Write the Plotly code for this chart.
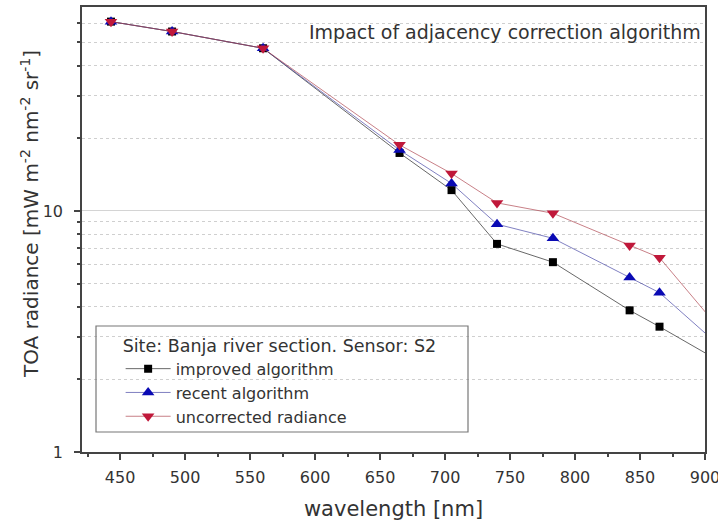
import plotly.graph_objects as go

wavelength = [443, 490, 560, 665, 705, 740, 783, 842, 865, 945]
improved = [61.0, 55.5, 47.3, 17.4, 12.2, 7.3, 6.13, 3.87, 3.31, 1.87]
recent = [61.0, 55.5, 47.3, 17.9, 13.0, 8.81, 7.7, 5.29, 4.58, 1.90]
uncorrected = [61.0, 55.5, 47.3, 18.8, 14.3, 10.8, 9.78, 7.18, 6.4, 1.97]

x_ticks = [450, 500, 550, 600, 650, 700, 750, 800, 850, 900]
x_minor = [425, 475, 525, 575, 625, 675, 725, 775, 825, 875]
y_ticks = [1, 10]
y_minor = [2, 3, 4, 5, 6, 7, 8, 9, 20, 30, 40, 50, 60]

FONT = "DejaVu Sans, Liberation Sans, Arial, sans-serif"
TXT = "#333333"

fig = go.Figure()
fig.add_trace(go.Scatter(x=wavelength, y=improved, mode="lines+markers",
                         name="improved algorithm",
                         line=dict(color="rgba(40,40,40,0.7)", width=1),
                         marker=dict(symbol="square", size=8, color="black")))
fig.add_trace(go.Scatter(x=wavelength, y=recent, mode="lines+markers",
                         name="recent algorithm",
                         line=dict(color="rgba(60,60,160,0.65)", width=1),
                         marker=dict(symbol="triangle-up", size=11, color="#0a0ab4")))
fig.add_trace(go.Scatter(x=wavelength, y=uncorrected, mode="lines+markers",
                         name="uncorrected radiance",
                         line=dict(color="rgba(170,60,70,0.65)", width=1),
                         marker=dict(symbol="triangle-down", size=11, color="#c0183a")))

# plot area in pixels: x 82..705, y 7..452
PW, PH, L, T = 623, 445, 82, 7
fig.update_layout(
    width=718, height=522,
    margin=dict(l=82, r=13, t=7, b=70),
    paper_bgcolor="white", plot_bgcolor="white",
    font=dict(family=FONT, color=TXT, size=15),
    showlegend=True,
    legend=dict(
        title=dict(text="Site: Banja river section. Sensor: S2", font=dict(size=17.5, color=TXT)),
        x=0.062, y=1 - (329 - T) / PH, xanchor="left", yanchor="top",
        borderwidth=0, bgcolor="rgba(0,0,0,0)",
        font=dict(size=16, color=TXT), tracegroupgap=0, itemwidth=45,
    ),
    shapes=[dict(type="rect", xref="paper", yref="paper",
                 x0=(96 - L) / PW, x1=(468 - L) / PW,
                 y0=1 - (432 - T) / PH, y1=1 - (326 - T) / PH,
                 line=dict(color="#777777", width=1.2), fillcolor="rgba(255,255,255,0)",
                 layer="above")],
    annotations=[
        dict(text="Impact of adjacency correction algorithm",
             xref="paper", yref="paper", x=0.997, y=1 - (32 - T) / PH,
             xanchor="right", yanchor="middle", showarrow=False,
             font=dict(size=19, color=TXT)),
        dict(text="TOA radiance [mW m<sup>-2</sup> nm<sup>-2</sup> sr<sup>-1</sup>]",
             xref="paper", yref="paper", x=(30 - L) / PW, y=1 - (214 - T) / PH,
             xanchor="center", yanchor="middle", textangle=-90, showarrow=False,
             font=dict(size=20, color=TXT)),
    ],
)

fig.update_xaxes(
    range=[420.7, 900], tickvals=x_ticks, ticks="outside", ticklen=6, tickwidth=1.5,
    tickcolor="#444", showline=True, linecolor="#444", linewidth=1.5, mirror=True,
    showgrid=False, zeroline=False, ticklabelstandoff=4, automargin=False,
    ticklabeloverflow="allow",
    tickfont=dict(size=16, color=TXT),
    title=dict(text="wavelength [nm]", font=dict(size=21, color=TXT), standoff=15),
    minor=dict(tickvals=x_minor, ticks="outside", ticklen=3, tickwidth=1.5,
               tickcolor="#444", showgrid=False),
)

fig.update_yaxes(
    type="log", range=[0, 1.846], tickvals=y_ticks, ticktext=["1", "10"],
    ticks="outside", ticklen=6, tickwidth=1.5, tickcolor="#444",
    showline=True, linecolor="#444", linewidth=1.5, mirror=True,
    showgrid=True, gridcolor="#d4d4d4", gridwidth=1, zeroline=False,
    ticklabelstandoff=8, automargin=False,
    tickfont=dict(size=16, color=TXT),
    minor=dict(tickvals=y_minor, ticks="outside", ticklen=3, tickwidth=1.5, tickcolor="#444",
               showgrid=True, gridcolor="#cfcfcf", griddash="dot", gridwidth=1),
)

fig.write_html("out.html")
